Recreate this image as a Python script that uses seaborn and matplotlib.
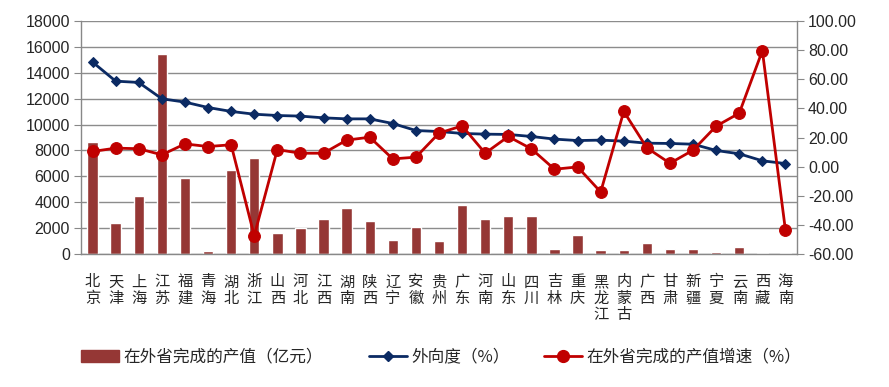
import matplotlib
matplotlib.use("Agg")
import matplotlib.pyplot as plt
import seaborn as sns
import pandas as pd
import numpy as np
from matplotlib.lines import Line2D
from matplotlib.patches import Patch
from matplotlib.ticker import FixedLocator, FuncFormatter

provinces = ["北京", "天津", "上海", "江苏", "福建", "青海", "湖北", "浙江", "山西", "河北",
             "江西", "湖南", "陕西", "辽宁", "安徽", "贵州", "广东", "河南", "山东", "四川",
             "吉林", "重庆", "黑龙江", "内蒙古", "广西", "甘肃", "新疆", "宁夏", "云南", "西藏", "海南"]
output_value = [8640, 2420, 4490, 15450, 5850, 260, 6470, 7400, 1600, 2010,
                2730, 3560, 2550, 1110, 2110, 980, 3790, 2730, 2940, 2940,
                390, 1500, 280, 280, 880, 390, 390, 180, 570, 50, 40]
openness = [71.8, 58.7, 57.8, 46.6, 44.3, 40.6, 37.9, 36.0, 35.1, 34.7,
            33.5, 32.8, 32.8, 29.6, 24.8, 24.1, 22.8, 22.3, 22.1, 20.7,
            18.9, 17.9, 18.2, 17.5, 16.1, 15.9, 15.4, 11.1, 8.8, 4.0, 2.1]
growth = [10.4, 12.7, 12.3, 8.1, 15.6, 13.8, 15.0, -47.4, 11.7, 9.2,
          9.2, 18.2, 20.2, 5.3, 6.5, 23.0, 28.0, 9.2, 20.7, 12.2,
          -1.8, -0.2, -17.4, 37.9, 12.9, 2.3, 11.3, 27.8, 36.7, 79.6, -43.7]
left_ticks = list(range(0, 18001, 2000))
right_ticks = list(range(-60, 101, 20))

label_bar = "在外省完成的产值（亿元）"
label_open = "外向度（%）"
label_growth = "在外省完成的产值增速（%）"

sns.set_style("white")
plt.rcParams["font.family"] = ["Liberation Sans", "Noto Sans CJK SC", "DejaVu Sans"]
cjk = ["Noto Sans CJK SC", "DejaVu Sans"]

df = pd.DataFrame({"province": provinces, "value": output_value,
                   "openness": openness, "growth": growth,
                   "idx": np.arange(len(provinces))})

bar_color = "#953735"
blue = "#0B2A63"
red = "#C00000"
grey = "#888888"

fig = plt.figure(figsize=(8.89, 3.87), dpi=100)
ax = fig.add_axes([81/889, 1-254/387, (797-81)/889, (254-21)/387])

sns.barplot(data=df, x="province", y="value", order=provinces, color=bar_color,
            width=0.45, saturation=1, ax=ax, zorder=2)
ax.set_ylim(0, 18000)
ax.set_xlim(-0.5, len(provinces)-0.5)
ax.yaxis.set_major_locator(FixedLocator(left_ticks))
ax.yaxis.grid(True, color="#8C8C8C", linewidth=1.0, zorder=0)
ax.set_axisbelow(True)
ax.set_xlabel("")
ax.set_ylabel("")

ax2 = ax.twinx()
sns.lineplot(data=df, x="idx", y="openness", color=blue, marker="D", markersize=5.5,
             markeredgecolor=blue, linewidth=2, ax=ax2, zorder=3)
sns.lineplot(data=df, x="idx", y="growth", color=red, marker="o", markersize=8.5,
             markeredgecolor=red, linewidth=2, ax=ax2, zorder=4)
ax2.set_ylim(-60, 100)
ax2.yaxis.set_major_locator(FixedLocator(right_ticks))
ax2.yaxis.set_major_formatter(FuncFormatter(lambda v, p: f"{v:.2f}"))
ax2.set_xlabel("")
ax2.set_ylabel("")
ax2.set_xlim(-0.5, len(provinces)-0.5)

for a in (ax, ax2):
    for s in a.spines.values():
        s.set_visible(False)
ax.spines["left"].set_visible(True)
ax.spines["bottom"].set_visible(True)
ax2.spines["right"].set_visible(True)
for s in (ax.spines["left"], ax.spines["bottom"], ax2.spines["right"]):
    s.set_color(grey)
    s.set_linewidth(1)

ax.tick_params(axis="y", which="major", length=5, color=grey, labelsize=11.5, pad=3)
ax2.tick_params(axis="y", which="major", length=5, color=grey, labelsize=11.5, pad=3)

# x ticks: labels at centres, tick marks at boundaries
ax.set_xticks(np.arange(len(provinces)))
ax.set_xticklabels(["\n".join(p) for p in provinces], family=cjk, fontsize=11,
                   linespacing=0.95, va="top")
ax.tick_params(axis="x", which="major", length=0, pad=14)
ax.xaxis.set_minor_locator(FixedLocator(np.arange(len(provinces)+1) - 0.5))
ax.tick_params(axis="x", which="minor", length=5, color=grey, direction="out")
ax2.tick_params(axis="x", which="both", length=0, labelbottom=False)

# legends
h_bar = Patch(facecolor=bar_color, edgecolor=bar_color)
h_open = Line2D([0], [0], color=blue, marker="D", markersize=5.5, linewidth=2)
h_growth = Line2D([0], [0], color=red, marker="o", markersize=8.5, linewidth=2)
common = dict(frameon=False, prop={"family": cjk, "size": 12}, handlelength=2.3,
              handletextpad=0.25, borderpad=0, borderaxespad=0, loc="center left")
fig.legend([h_bar], [label_bar], bbox_to_anchor=(81/889, 1-357/387), **common)
fig.legend([h_open], [label_open], bbox_to_anchor=(369/889, 1-357/387), **common)
fig.legend([h_growth], [label_growth], bbox_to_anchor=(544/889, 1-357/387), **common)

fig.savefig("out.png", dpi=100)
